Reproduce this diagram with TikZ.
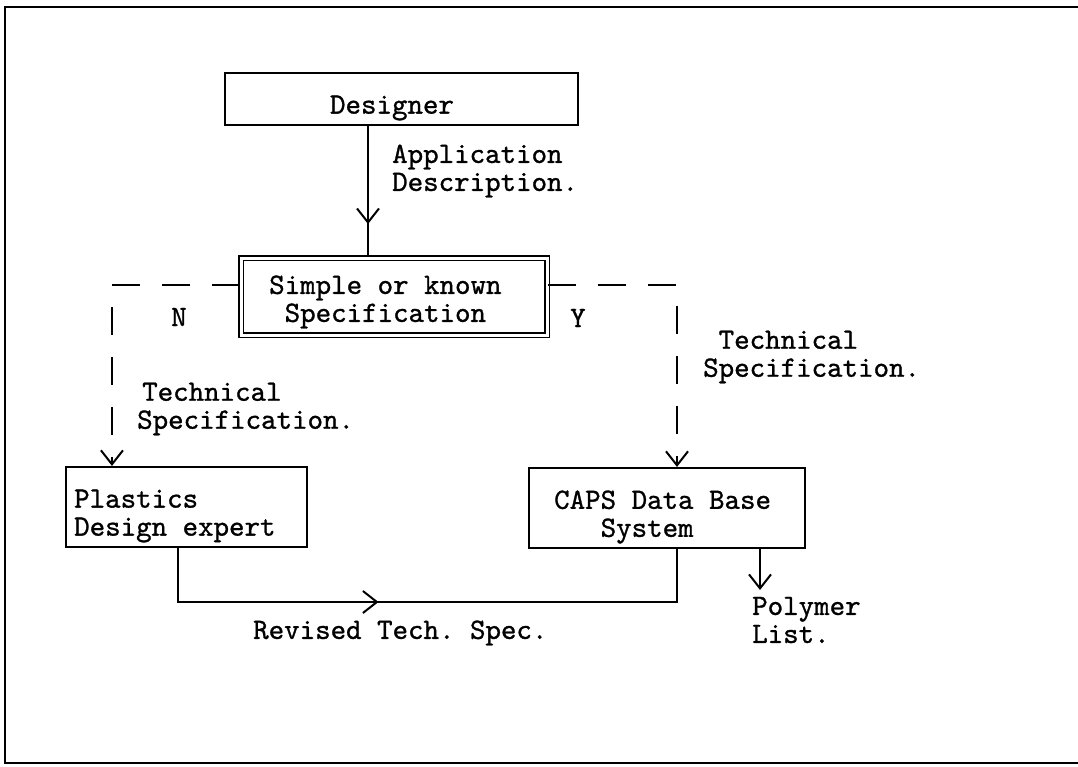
\documentclass[tikz,border=0pt]{standalone}
\usepackage{fontspec}
\newfontfamily\courfont{lmmono10-regular.otf}[FakeBold=1]
\usetikzlibrary{arrows.meta,decorations.markings}
\begin{document}
\begin{tikzpicture}[x=1pt,y=-1pt,
  every node/.style={font=\courfont\fontsize{29.5}{28}\selectfont\frenchspacing, inner sep=0pt},
  box/.style={draw, line width=2.1pt},
  ln/.style={line width=2.1pt},
  tip/.style={-{Straight Barb[length=14pt,width=22pt,line width=2pt]}},
  dsh/.style={ln, dash pattern=on 28pt off 22pt},
  midarrow/.style={postaction={decorate, decoration={markings,
     mark=at position #1 with {\arrow{Straight Barb[length=14pt,width=22pt,line width=2pt]}}}}}
]
\useasboundingbox (0,0) rectangle (1078,766);
% frame
\coordinate (ftr) at (1078,7);
\coordinate (ftl) at (5,7);
\coordinate (fbl) at (5,763);
\coordinate (fbr) at (1078,763);
\draw[line width=2pt] (ftr) -- (ftl) -- (fbl) -- (fbr);

% boxes
\node[box, minimum width=353pt, minimum height=52pt] (des) at (401.5,99) {};
\node[draw, line width=1.8pt, double, double distance=3pt,
      minimum width=306pt, minimum height=77pt] (spec) at (394,296.5) {};
\node[box, minimum width=241pt, minimum height=80pt] (pde) at (186.5,507) {};
\node[box, minimum width=276pt, minimum height=80pt] (caps) at (667,508) {};

% box texts
\node (tdes) at (392,108) {Designer};
\node[anchor=west, align=left] (tspec) at (269,302) {Simple or known\\\hspace*{15.5pt}Specification};
\node[anchor=west, align=left] (tpde) at (74,516) {Plastics\\Design expert};
\node[anchor=west, align=left] (tcaps) at (554,517) {CAPS Data Base\\\hspace*{46.5pt}System};

% connectors
\coordinate (desout) at (368,125);
\draw[ln, midarrow=0.75] (desout) -- (spec.north -| desout);
\draw[dsh, tip] ([yshift=11.5pt]spec.west) -| ([xshift=47pt]pde.north west);
\draw[dsh, tip] ([yshift=11.5pt]spec.east) -| ([xshift=10pt]caps.north);
\coordinate (pdeout) at (178,547);
\coordinate (capsin) at (677,548);
\draw[ln, midarrow=0.42] (pde.south -| pdeout) -- (178,602) -- (677,602) -- (caps.south -| capsin);
\coordinate (polyend) at (760,590);
\draw[ln, tip] (caps.south -| polyend) -- (polyend);

% labels
\node[anchor=west, align=left] (lapp) at (392,171) {Application\\Description.};
\node[anchor=west] (lN) at (171,317) {N};
\node[anchor=west] (lY) at (570,318) {Y};
\node[anchor=west, align=left] (ltsr) at (703,357) {\hspace*{15.5pt}Technical\\Specification.};
\node[anchor=west, align=left] (ltsl) at (137,409) {\hspace*{5pt}Technical\\Specification.};
\node[anchor=west] (lrev) at (253,633) {Revised Tech. Spec.};
\node[anchor=west, align=left] (lpoly) at (752,620) {Polymer\\List.};
\end{tikzpicture}
\end{document}
